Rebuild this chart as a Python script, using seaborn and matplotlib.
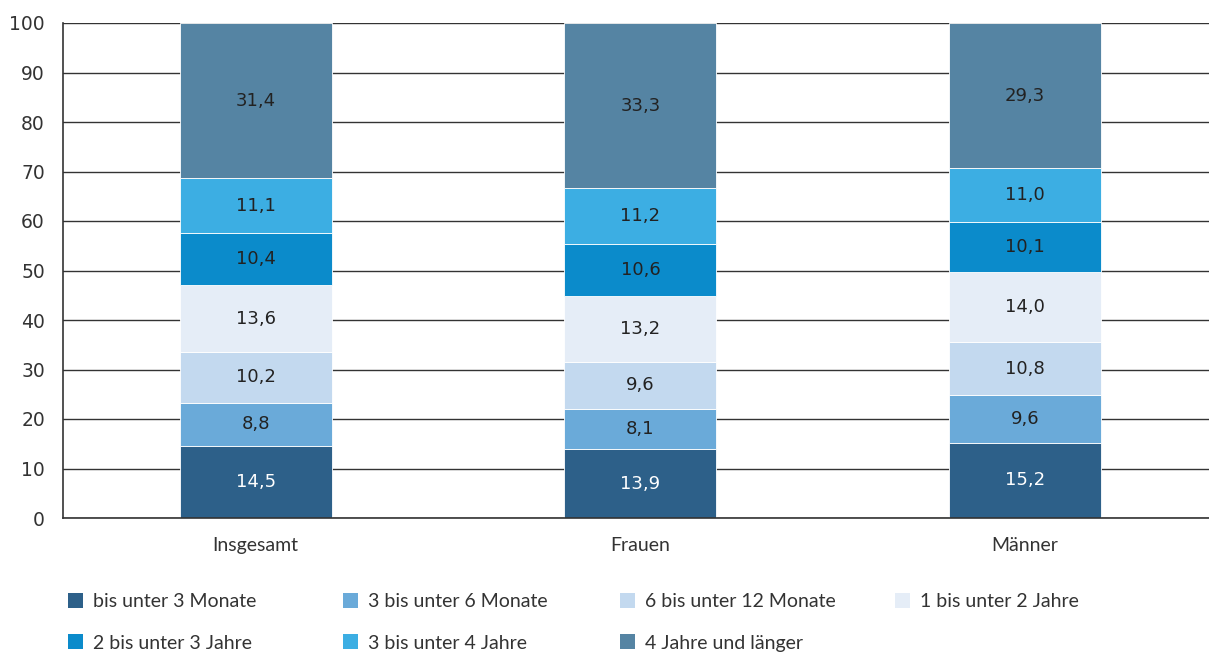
import numpy as np
import pandas as pd
import seaborn as sns
import matplotlib.pyplot as plt
from matplotlib.patches import Patch

groups = ["Insgesamt", "Frauen", "Männer"]
series = ["bis unter 3 Monate", "3 bis unter 6 Monate", "6 bis unter 12 Monate",
          "1 bis unter 2 Jahre", "2 bis unter 3 Jahre", "3 bis unter 4 Jahre",
          "4 Jahre und länger"]
values = [
    [14.5, 13.9, 15.2],
    [8.8, 8.1, 9.6],
    [10.2, 9.6, 10.8],
    [13.6, 13.2, 14.0],
    [10.4, 10.6, 10.1],
    [11.1, 11.2, 11.0],
    [31.4, 33.3, 29.3],
]
colors = ["#2d6089", "#6aaad9", "#c3d9ef", "#e5edf7", "#0b8bcb", "#3caee3", "#5584a3"]
label_colors = ["white", "#222222", "#222222", "#222222", "#222222", "#222222", "#222222"]

sns.set_theme(style="white")
plt.rcParams["font.family"] = ["DejaVu Sans"]

fig = plt.figure(figsize=(12.09, 6.53), dpi=100)
ax = fig.add_axes([63 / 1209, 135 / 653, 1146 / 1209, 495 / 653])

# gridlines behind bars
ax.set_axisbelow(True)
ax.yaxis.grid(True, color="#333333", linewidth=1)

bottom = np.zeros(len(groups))
for i, name in enumerate(series):
    df = pd.DataFrame({"group": groups, "value": values[i]})
    sns.barplot(data=df, x="group", y="value", color=colors[i], bottom=bottom,
                width=0.395, edgecolor="white", linewidth=0.6, ax=ax, saturation=1)
    for j, v in enumerate(values[i]):
        ax.text(j, bottom[j] + v / 2, f"{v:.1f}".replace(".", ","), ha="center",
                va="center", fontsize=13, color=label_colors[i])
    bottom = bottom + np.array(values[i])

ax.set_ylim(0, 100)
ax.set_xlim(-0.501, 2.478)
ax.set_yticks(range(0, 101, 10))
ax.set_xlabel("")
ax.set_ylabel("")
ax.tick_params(axis="y", length=0, pad=13, labelsize=13.5, labelcolor="#333333")
ax.tick_params(axis="x", length=0, pad=14, labelsize=14, labelcolor="#333333")
for lab in ax.get_xticklabels():
    lab.set_fontfamily("Lato")
for s in ["top", "right"]:
    ax.spines[s].set_visible(False)
for s in ["left", "bottom"]:
    ax.spines[s].set_color("#333333")
    ax.spines[s].set_linewidth(1.2)

handles = [Patch(facecolor=c, edgecolor="none") for c in colors]
cols = [[0, 4], [1, 5], [2, 6], [3]]
xs = [60, 335, 612, 887]
for col, x in zip(cols, xs):
    leg = fig.legend([handles[k] for k in col], [series[k] for k in col],
                     loc="upper left", bbox_to_anchor=(x / 1209, 1 - 585 / 653),
                     frameon=False, handlelength=0.8, handleheight=0.8,
                     handletextpad=0.5, labelspacing=1.26, borderaxespad=0,
                     prop={"family": "Lato", "size": 14}, labelcolor="#333333")

fig.savefig("out.png", dpi=100)
